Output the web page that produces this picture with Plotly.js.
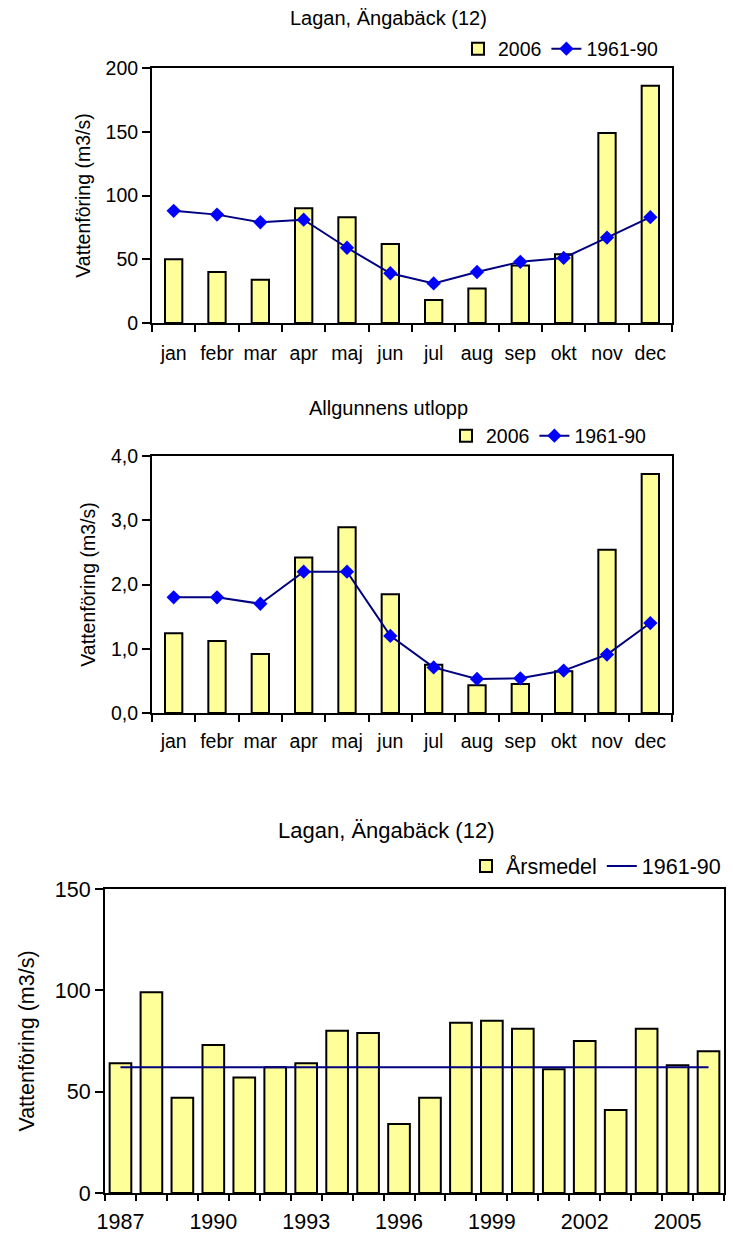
<!DOCTYPE html>
<html>
<head>
<meta charset="utf-8">
<script src="https://cdn.plot.ly/plotly-3.0.1.min.js"></script>
<style>
  html, body { margin: 0; padding: 0; background: #fff; }
  #chart { width: 733px; height: 1236px; }
</style>
</head>
<body>
<div id="chart"></div>
<script>
// Monthly flow, Lagan at Ängabäck (12) and Allgunnens utlopp, plus annual means
const months = ['jan', 'febr', 'mar', 'apr', 'maj', 'jun', 'jul', 'aug', 'sep', 'okt', 'nov', 'dec'];

const lagan2006 = [50, 40, 34, 90, 83, 62, 18, 27, 45, 54, 149, 186];
const lagan1961_90 = [88, 85, 79, 81, 59, 39, 31, 40, 48, 51, 67, 83];

const allg2006 = [1.24, 1.12, 0.92, 2.42, 2.89, 1.85, 0.75, 0.43, 0.45, 0.65, 2.54, 3.72];
const allg1961_90 = [1.8, 1.8, 1.7, 2.2, 2.2, 1.2, 0.71, 0.53, 0.54, 0.66, 0.91, 1.4];

const years = [1987, 1988, 1989, 1990, 1991, 1992, 1993, 1994, 1995, 1996,
               1997, 1998, 1999, 2000, 2001, 2002, 2003, 2004, 2005, 2006];
const arsmedel = [64, 99, 47, 73, 57, 62, 64, 80, 79, 34, 47, 84, 85, 81, 61, 75, 41, 81, 63, 70];
const laganMean1961_90 = 62;
const yearTicks = [1987, 1990, 1993, 1996, 1999, 2002, 2005];

// page geometry helpers (pixels -> paper fraction)
const W = 733, H = 1236;
const fx = p => p / W;
const fy = p => 1 - p / H;

const FONT = 'Liberation Sans, Arial, Helvetica, sans-serif';
const monthIdx = months.map((m, i) => i);

const barStyle = { color: '#FFFF99', line: { color: '#000000', width: 2 } };
const lineStyle = { color: '#000080', width: 2 };
const diamond = { symbol: 'diamond', size: 11, color: '#0000FF', line: { width: 0 } };

const traces = [
  { type: 'bar', name: '2006', x: monthIdx, y: lagan2006, width: 0.4,
    marker: barStyle, xaxis: 'x', yaxis: 'y', legend: 'legend', hoverinfo: 'skip' },
  { type: 'scatter', mode: 'lines+markers', name: '1961-90', x: monthIdx, y: lagan1961_90,
    line: lineStyle, marker: diamond, xaxis: 'x', yaxis: 'y', legend: 'legend', hoverinfo: 'skip' },

  { type: 'bar', name: '2006', x: monthIdx, y: allg2006, width: 0.4,
    marker: barStyle, xaxis: 'x2', yaxis: 'y2', legend: 'legend2', hoverinfo: 'skip' },
  { type: 'scatter', mode: 'lines+markers', name: '1961-90', x: monthIdx, y: allg1961_90,
    line: lineStyle, marker: diamond, xaxis: 'x2', yaxis: 'y2', legend: 'legend2', hoverinfo: 'skip' },

  { type: 'bar', name: 'Årsmedel', x: years, y: arsmedel, width: 0.7,
    marker: barStyle, xaxis: 'x3', yaxis: 'y3', legend: 'legend3', hoverinfo: 'skip' },
  { type: 'scatter', mode: 'lines', name: '1961-90', x: [years[0], years[years.length - 1]],
    y: [laganMean1961_90, laganMean1961_90],
    line: lineStyle, xaxis: 'x3', yaxis: 'y3', legend: 'legend3', hoverinfo: 'skip' }
];

function monthAxis(standoff) {
  return {
    domain: [fx(152), fx(672)], range: [-0.5, 11.5],
    tickmode: 'array', tickvals: monthIdx, ticktext: months, ticks: '',
    ticklabelstandoff: standoff,
    tickfont: { family: FONT, size: 19.5, color: '#000' },
    showline: true, linewidth: 2, linecolor: '#000', mirror: true,
    showgrid: false, zeroline: false, fixedrange: true,
    minor: { tickmode: 'linear', tick0: -0.5, dtick: 1, ticks: 'outside',
             ticklen: 7, tickwidth: 2, tickcolor: '#000', showgrid: false }
  };
}
function innerTicks(base, range, tick0, len) {
  return {
    overlaying: base, anchor: base.replace('x', 'y'), range: range,
    showticklabels: false, showline: false, ticks: '', showgrid: false, zeroline: false,
    tickmode: 'array', tickvals: [],
    minor: { tickmode: 'linear', tick0: tick0, dtick: 1, ticks: 'inside',
             ticklen: len, tickwidth: 2, tickcolor: '#000', showgrid: false }
  };
}
function valueAxis(top, bottom, range, dtick, size, fmt, standoff) {
  return {
    domain: [fy(bottom), fy(top)], range: range, tickmode: 'linear', tick0: 0, dtick: dtick,
    tickformat: fmt, ticks: 'outside', ticklen: 8, tickwidth: 2, tickcolor: '#000',
    tickfont: { family: FONT, size: size, color: '#000' },
    showline: true, linewidth: 2, linecolor: '#000', mirror: true,
    showgrid: false, zeroline: false, fixedrange: true,
    title: { text: 'Vattenföring (m3/s)', font: { family: FONT, size: size, color: '#000' }, standoff: standoff }
  };
}

const legendBase = size => ({
  orientation: 'h', xanchor: 'right', yanchor: 'middle',
  bgcolor: 'rgba(0,0,0,0)', borderwidth: 0,
  font: { family: FONT, size: size, color: '#000' }, itemclick: false, itemdoubleclick: false
});

const layout = {
  width: W, height: H,
  margin: { l: 0, r: 0, t: 0, b: 0 },
  paper_bgcolor: '#fff', plot_bgcolor: '#fff',
  separators: ', ',
  font: { family: FONT, color: '#000' },
  showlegend: true,

  xaxis: Object.assign(monthAxis(12), { anchor: 'y' }),
  yaxis: Object.assign(valueAxis(68, 323, [0, 200], 50, 19.5, 'd', 10), { anchor: 'x' }),
  xaxis4: innerTicks('x', [-0.5, 11.5], -0.5, 5),

  xaxis2: Object.assign(monthAxis(10), { anchor: 'y2' }),
  yaxis2: Object.assign(valueAxis(456, 713, [0, 4], 1, 19.5, '.1f', 10), { anchor: 'x2' }),
  xaxis5: innerTicks('x2', [-0.5, 11.5], -0.5, 5),

  xaxis3: {
    anchor: 'y3', domain: [fx(105), fx(724)], range: [1986.5, 2006.5],
    tickmode: 'array', tickvals: yearTicks, ticktext: yearTicks.map(String), ticks: '',
    ticklabelstandoff: 8,
    tickfont: { family: FONT, size: 21.5, color: '#000' },
    showline: true, linewidth: 2, linecolor: '#000', mirror: true,
    showgrid: false, zeroline: false, fixedrange: true,
    minor: { tickmode: 'linear', tick0: 1986.5, dtick: 1, ticks: 'outside',
             ticklen: 6, tickwidth: 2, tickcolor: '#000', showgrid: false }
  },
  yaxis3: Object.assign(valueAxis(889, 1193, [0, 150], 50, 21.5, 'd', 14), { anchor: 'x3' }),
  xaxis6: innerTicks('x3', [1986.5, 2006.5], 1986.5, 4),

  legend: Object.assign(legendBase(19.5), { x: fx(664), y: fy(49) }),
  legend2: Object.assign(legendBase(19.5), { x: fx(652), y: fy(436) }),
  legend3: Object.assign(legendBase(21.5), { x: fx(726), y: fy(866) }),

  annotations: [
    { text: 'Lagan, Ängabäck (12)', xref: 'paper', yref: 'paper', x: fx(388), y: fy(18),
      xanchor: 'center', yanchor: 'middle', showarrow: false, font: { family: FONT, size: 20, color: '#000' } },
    { text: 'Allgunnens utlopp', xref: 'paper', yref: 'paper', x: fx(388), y: fy(408),
      xanchor: 'center', yanchor: 'middle', showarrow: false, font: { family: FONT, size: 20, color: '#000' } },
    { text: 'Lagan, Ängabäck (12)', xref: 'paper', yref: 'paper', x: fx(386), y: fy(830),
      xanchor: 'center', yanchor: 'middle', showarrow: false, font: { family: FONT, size: 22, color: '#000' } }
  ]
};

Plotly.newPlot('chart', traces, layout, { displayModeBar: false, staticPlot: true });
</script>
</body>
</html>
